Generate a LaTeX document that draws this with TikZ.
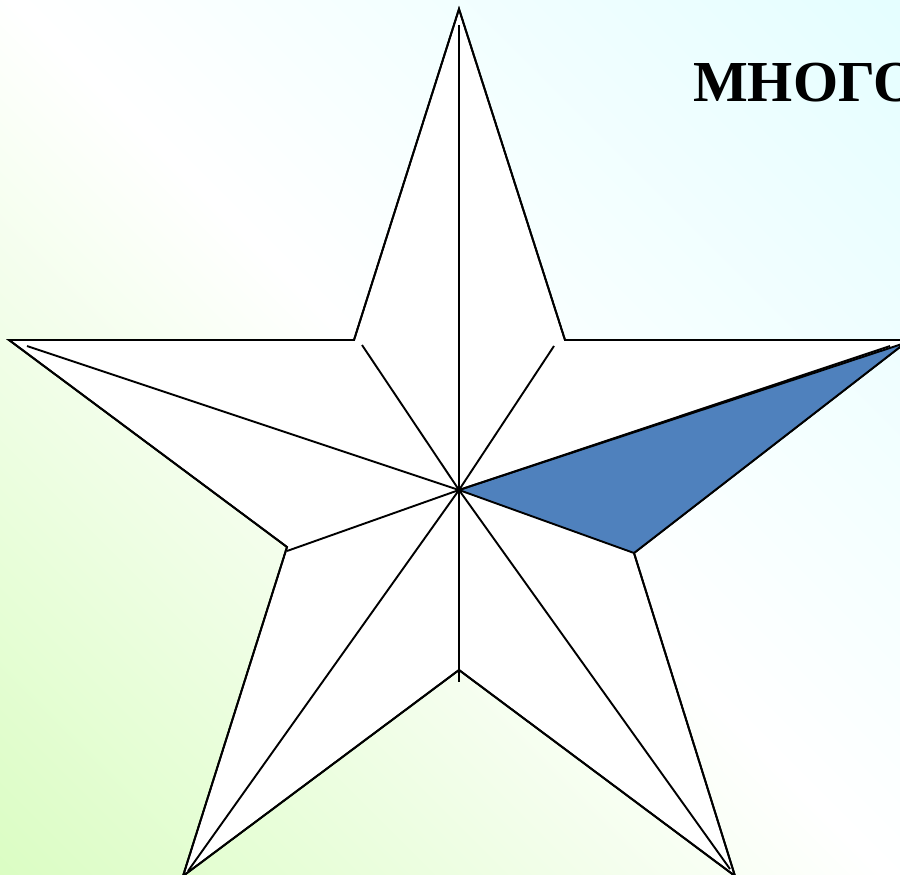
\documentclass[tikz,border=0pt]{standalone}
\usepackage{fontspec}
\newfontfamily\titlefont{Liberation Serif}
\definecolor{bggreen}{HTML}{DAFDC2}
\definecolor{bgcyan}{HTML}{E4FEFF}
\definecolor{facetblue}{HTML}{4F81BD}
\begin{document}
\begin{tikzpicture}[x=1pt,y=-1pt,
  edge/.style={draw=black,line width=1.9pt,line join=miter},
  rib/.style={draw=black,line width=1.9pt}]
\useasboundingbox (0,0) rectangle (900,875);
\clip (0,0) rectangle (900,875);
% background gradient
\shade[bottom color=bggreen, top color=bgcyan, middle color=white, shading angle=-45] (-200,-200) rectangle (1100,1075);
% star points
\coordinate (T) at (459,9);
\coordinate (ITR) at (565,340);
\coordinate (R) at (909,340);
\coordinate (IR) at (634,553);
\coordinate (BR) at (735,876);
\coordinate (IB) at (459,670);
\coordinate (BL) at (183,876);
\coordinate (IL) at (287,547);
\coordinate (L) at (9,340);
\coordinate (ITL) at (354,340);
\coordinate (C) at (459,490);
% star body
\path[fill=white,edge] (T) -- (ITR) -- (R) -- (IR) -- (BR) -- (IB) -- (BL) -- (IL) -- (L) -- (ITL) -- cycle;
% blue facet
\fill[facetblue] (C) -- (905,343) -- (IR) -- cycle;
\draw[rib] (C) -- (905,343);
\draw[rib] (C) -- (IR);
% ribs
\coordinate (vt) at (459,25);
\coordinate (vb) at (459,682);
\coordinate (rl) at (27,346);
\coordinate (rr) at (890,346);
\coordinate (rtl) at (362,345);
\coordinate (rtr) at (554,346);
\coordinate (ril) at (287,551);
\coordinate (rbl) at (188,871);
\coordinate (rbr) at (730,869);
\draw[rib] (vt) -- (vb);
\draw[rib] (C) -- (rl);
\draw[rib] (C) -- (rr);
\draw[rib] (C) -- (rtl);
\draw[rib] (C) -- (rtr);
\draw[rib] (C) -- (ril);
\draw[rib] (C) -- (rbl);
\draw[rib] (C) -- (rbr);
\path[edge,fill=none] (T) -- (ITR) -- (R) -- (IR) -- (BR) -- (IB) -- (BL) -- (IL) -- (L) -- (ITL) -- cycle;
% title
\node[anchor=base west,inner sep=0pt,font=\titlefont\bfseries\fontsize{58}{60}\selectfont] (title) at (693,102) {МНОГО};
\end{tikzpicture}
\end{document}
